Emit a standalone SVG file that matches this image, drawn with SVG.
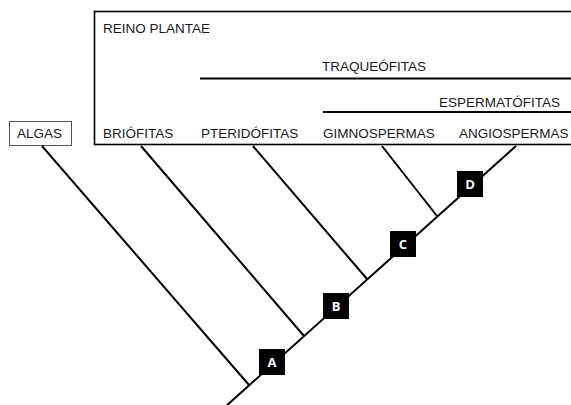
<svg xmlns="http://www.w3.org/2000/svg" width="571" height="405" viewBox="0 0 571 405">
<style>
.t{font-family:"Liberation Sans",Arial,sans-serif;font-size:13.5px;fill:#1a1a1a}
.ln{stroke:#000;stroke-width:2;fill:none;stroke-linecap:butt}
.sq{fill:#000}
.lt{font-family:"Open Sans","DejaVu Sans",sans-serif;font-size:13px;font-weight:bold;fill:#fff;text-anchor:middle}
</style>
<rect width="571" height="405" fill="#fff"/>
<g id="reino-plantae">
<rect x="94.5" y="11.5" width="490" height="133" fill="none" stroke="#000" stroke-width="1.6"/>
<text class="t" x="103" y="33">REINO PLANTAE</text>
</g>
<g id="traqueofitas">
<line class="ln" x1="200" y1="78.5" x2="571" y2="78.5" stroke-width="1.6"/>
<text class="t" x="322" y="71">TRAQUEÓFITAS</text>
</g>
<g id="espermatofitas">
<line class="ln" x1="323" y1="112" x2="571" y2="112" stroke-width="1.6"/>
<text class="t" x="439" y="107">ESPERMATÓFITAS</text>
</g>
<g id="algas">
<rect x="9.5" y="121.5" width="62" height="24" fill="#fff" stroke="#555" stroke-width="1"/>
<text class="t" x="17" y="138">ALGAS</text>
</g>
<g id="briofitas"><text class="t" x="103" y="138">BRIÓFITAS</text></g>
<g id="pteridofitas"><text class="t" x="201" y="138">PTERIDÓFITAS</text></g>
<g id="gimnospermas"><text class="t" x="323" y="138">GIMNOSPERMAS</text></g>
<g id="angiospermas"><text class="t" x="459" y="138">ANGIOSPERMAS</text></g>
<g id="connectors">
<line class="ln" x1="516" y1="146" x2="225" y2="407"/>
<line class="ln" x1="42" y1="146" x2="249" y2="385"/>
<line class="ln" x1="141" y1="146" x2="304" y2="336"/>
<line class="ln" x1="253" y1="146" x2="367" y2="279"/>
<line class="ln" x1="382" y1="146" x2="437" y2="216"/>
</g>
<g id="A"><rect class="sq" x="259" y="349" width="26" height="26"/><text class="lt" x="272" y="367">A</text></g>
<g id="B"><rect class="sq" x="323" y="293" width="26" height="26"/><text class="lt" x="336" y="311">B</text></g>
<g id="C"><rect class="sq" x="390" y="231" width="26" height="26"/><text class="lt" x="403" y="249">C</text></g>
<g id="D"><rect class="sq" x="457" y="171" width="26" height="26"/><text class="lt" x="470" y="189">D</text></g>
</svg>
